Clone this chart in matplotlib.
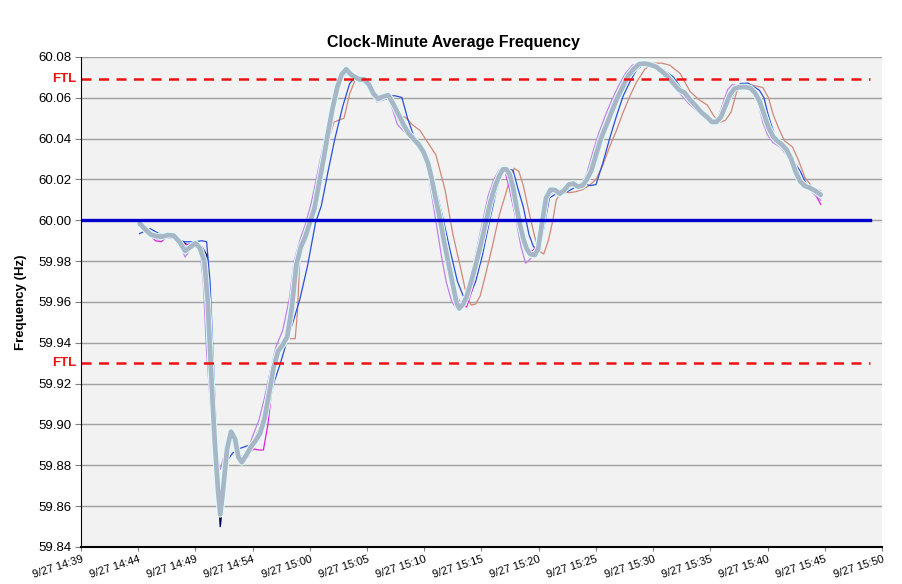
import matplotlib
matplotlib.use("Agg")
import matplotlib.pyplot as plt
import numpy as np

plt.rcParams['font.family'] = ['Liberation Sans', 'DejaVu Sans']

# x values are minutes after 14:00 on 9/27
x_start = 39.833
tick_step = 5.04
tick_labels = ["9/27 14:39", "9/27 14:44", "9/27 14:49", "9/27 14:54", "9/27 15:00",
               "9/27 15:05", "9/27 15:10", "9/27 15:15", "9/27 15:20", "9/27 15:25",
               "9/27 15:30", "9/27 15:35", "9/27 15:40", "9/27 15:45", "9/27 15:50"]

ftl_high = 60.069
ftl_low = 59.930
ref_span = [39.833, 109.3]

main_t = [45.0, 45.5, 46.0, 46.5, 47.0, 47.5, 48.0, 48.5, 49.0, 49.5, 49.9, 50.3, 50.7,
          51.0, 51.3, 51.6, 51.9, 52.1, 52.35, 52.7, 53.05, 53.4, 53.7, 54.0, 54.4,
          54.8, 55.2, 55.6, 56.0, 56.4, 56.8, 57.2, 57.6, 58.0, 58.4, 58.8, 59.2, 59.6,
          60.0, 60.4, 60.8, 61.2, 61.6, 62.0, 62.4, 62.8, 63.2, 63.6, 64.0, 64.4, 64.8,
          65.2, 65.6, 66.0, 66.4, 66.9, 67.3, 67.7, 68.2, 68.7, 69.1, 69.6, 70.0, 70.4,
          70.7, 71.1, 71.45, 71.8, 72.2, 72.6, 72.9, 73.15, 73.5, 73.8, 74.2, 74.6, 75.0,
          75.5, 75.9, 76.3, 76.7, 77.0, 77.3, 77.6, 77.9, 78.2, 78.5, 78.8, 79.1, 79.4,
          79.8, 80.1, 80.4, 80.8, 81.2, 81.6, 82.0, 82.4, 82.8, 83.2, 83.6, 84.0, 84.4,
          84.8, 85.2, 85.6, 86.0, 86.5, 87.0, 87.5, 88.0, 88.5, 89.0, 89.5, 90.0, 90.5,
          91.0, 91.5, 92.0, 92.5, 93.0, 93.5, 94.0, 94.5, 95.0, 95.4, 95.8, 96.2, 96.6,
          97.0, 97.4, 97.8, 98.3, 98.8, 99.2, 99.6, 100.0, 100.4, 100.8, 101.2, 101.6,
          102.0, 102.4, 102.8, 103.2, 103.6, 104.0, 104.5, 105.0]
main_f = [59.9985, 59.9955, 59.9930, 59.9922, 59.9920, 59.9928, 59.9925, 59.9895, 59.9850,
          59.9870, 59.9888, 59.9865, 59.9800, 59.9600, 59.9250, 59.8930, 59.8680, 59.8560,
          59.8680, 59.8880, 59.8965, 59.8930, 59.8840, 59.8815, 59.8850, 59.8890, 59.8920,
          59.8955, 59.9030, 59.9150, 59.9280, 59.9360, 59.9390, 59.9430, 59.9570, 59.9780,
          59.9870, 59.9920, 59.9990, 60.0060, 60.0180, 60.0300, 60.0430, 60.0550, 60.0650,
          60.0715, 60.0740, 60.0715, 60.0700, 60.0690, 60.0690, 60.0665, 60.0620, 60.0595,
          60.0605, 60.0613, 60.0575, 60.0530, 60.0474, 60.0425, 60.0400, 60.0370, 60.0335,
          60.0280, 60.0212, 60.0100, 60.0010, 59.9900, 59.9790, 59.9680, 59.9600, 59.9568,
          59.9590, 59.9625, 59.9700, 59.9780, 59.9870, 59.9990, 60.0090, 60.0165, 60.0220,
          60.0250, 60.0250, 60.0225, 60.0160, 60.0065, 59.9980, 59.9910, 59.9860, 59.9835,
          59.9830, 59.9860, 59.9970, 60.0110, 60.0150, 60.0148, 60.0130, 60.0148, 60.0175,
          60.0180, 60.0165, 60.0170, 60.0200, 60.0245, 60.0320, 60.0395, 60.0450, 60.0520,
          60.0590, 60.0648, 60.0705, 60.0740, 60.0765, 60.0768, 60.0762, 60.0752, 60.0730,
          60.0705, 60.0672, 60.0640, 60.0625, 60.0590, 60.0560, 60.0528, 60.0505, 60.0482,
          60.0482, 60.0505, 60.0560, 60.0615, 60.0645, 60.0652, 60.0653, 60.0648, 60.0625,
          60.0585, 60.0520, 60.0455, 60.0410, 60.0388, 60.0370, 60.0345, 60.0300, 60.0235,
          60.0190, 60.0168, 60.0160, 60.0145, 60.0125]

salmon_t = [45.0, 46.0, 47.0, 48.0, 49.0, 50.0, 50.6, 51.0, 51.4, 51.8, 52.1, 52.4, 53.0,
            53.5, 54.0, 55.0, 56.0, 56.8, 57.4, 57.9, 58.7, 58.9, 59.1, 59.6, 60.3, 61.0,
            61.6, 62.1, 62.5, 63.0, 63.5, 64.0, 64.5, 65.2, 66.0, 66.9, 67.5, 67.9, 68.4,
            69.0, 69.7, 70.4, 71.1, 71.9, 72.6, 73.3, 73.8, 74.2, 74.6, 75.0, 75.5, 76.1,
            76.7, 77.3, 77.7, 78.0, 78.4, 78.8, 79.3, 79.8, 80.2, 80.6, 81.0, 81.4, 81.7,
            82.2, 82.8, 83.4, 84.0, 84.6, 85.2, 85.8, 86.4, 87.0, 87.6, 88.2, 88.8, 89.5,
            90.2, 91.0, 91.7, 92.6, 93.5, 94.3, 95.0, 95.6, 96.1, 96.6, 97.1, 97.6, 98.2,
            99.0, 99.9, 100.4, 100.8, 101.3, 101.8, 102.5, 103.0, 103.6, 104.3, 105.0]
salmon_f = [59.9980, 59.9930, 59.9920, 59.9925, 59.9860, 59.9880, 59.9840, 59.9700, 59.9300,
            59.8850, 59.8560, 59.8700, 59.8960, 59.8900, 59.8820, 59.8910, 59.9040, 59.9270,
            59.9380, 59.9420, 59.9420, 59.9550, 59.9800, 59.9920, 60.0020, 60.0200, 60.0380,
            60.0480, 60.0490, 60.0500, 60.0620, 60.0690, 60.0690, 60.0665, 60.0595, 60.0605,
            60.0540, 60.0510, 60.0505, 60.0470, 60.0440, 60.0380, 60.0320, 60.0150, 59.9930,
            59.9760, 59.9630, 59.9585, 59.9590, 59.9630, 59.9740, 59.9880, 60.0030, 60.0140,
            60.0220, 60.0255, 60.0240, 60.0170, 60.0040, 59.9920, 59.9850, 59.9835, 59.9900,
            60.0000, 60.0100, 60.0145, 60.0135, 60.0140, 60.0150, 60.0170, 60.0200, 60.0270,
            60.0360, 60.0440, 60.0530, 60.0610, 60.0680, 60.0740, 60.0770, 60.0770, 60.0760,
            60.0720, 60.0630, 60.0590, 60.0565, 60.0510, 60.0480, 60.0490, 60.0530, 60.0630,
            60.0660, 60.0662, 60.0650, 60.0600, 60.0520, 60.0450, 60.0390, 60.0360, 60.0300,
            60.0210, 60.0160, 60.0145]

blue_t = [45.0, 45.9, 46.7, 47.5, 48.3, 49.0, 49.8, 50.5, 50.9, 51.2, 51.5, 51.8, 52.05,
          52.4, 52.8, 53.2, 53.7, 54.2, 55.0, 55.6, 56.2, 56.8, 57.4, 57.9, 58.5, 59.1,
          59.8, 60.5, 61.0, 61.6, 62.2, 62.9, 63.5, 63.9, 64.5, 65.0, 65.6, 66.2, 66.8,
          67.5, 68.1, 68.6, 69.1, 69.8, 70.5, 71.2, 71.8, 72.4, 73.0, 73.5, 74.0, 74.6,
          75.2, 75.8, 76.4, 76.9, 77.3, 77.9, 78.3, 78.8, 79.3, 79.7, 80.2, 80.6, 81.1,
          81.7, 82.5, 83.3, 84.1, 84.7, 85.2, 85.8, 86.4, 87.0, 87.6, 88.2, 88.8, 89.5,
          90.3, 91.2, 92.0, 92.8, 93.6, 94.4, 95.0, 95.5, 96.2, 97.0, 97.9, 98.6, 99.6,
          100.0, 100.4, 101.1, 101.8, 102.6, 103.2, 103.7, 104.4, 105.0]
blue_f = [59.9935, 59.9960, 59.9935, 59.9925, 59.9905, 59.9895, 59.9895, 59.9900, 59.9895,
          59.9700, 59.9300, 59.8900, 59.8660, 59.8760, 59.8830, 59.8860, 59.8880, 59.8890,
          59.8905, 59.8940, 59.9050, 59.9200, 59.9300, 59.9395, 59.9500, 59.9610, 59.9780,
          59.9990, 60.0070, 60.0240, 60.0400, 60.0560, 60.0670, 60.0695, 60.0695, 60.0680,
          60.0630, 60.0600, 60.0610, 60.0610, 60.0602, 60.0500, 60.0420, 60.0360, 60.0270,
          60.0130, 59.9990, 59.9840, 59.9700, 59.9630, 59.9620, 59.9700, 59.9830, 59.9990,
          60.0140, 60.0230, 60.0253, 60.0245, 60.0160, 60.0065, 59.9930, 59.9870, 59.9860,
          59.9960, 60.0110, 60.0130, 60.0135, 60.0160, 60.0180, 60.0170, 60.0175, 60.0280,
          60.0400, 60.0510, 60.0610, 60.0680, 60.0740, 60.0765, 60.0760, 60.0735, 60.0703,
          60.0640, 60.0580, 60.0530, 60.0500, 60.0480, 60.0520, 60.0588, 60.0670, 60.0672,
          60.0637, 60.0600, 60.0510, 60.0390, 60.0340, 60.0290, 60.0240, 60.0180, 60.0150,
          60.0130]

lilac_t = [45.0, 45.8, 46.6, 47.4, 48.0, 48.6, 49.0, 49.5, 49.9, 50.3, 50.6, 50.9, 51.3,
           51.7, 52.1, 52.5, 53.0, 53.5, 54.0, 54.5, 55.0, 55.5, 56.0, 56.5, 57.0, 57.6,
           58.2, 58.6, 59.1, 59.6, 60.1, 60.7, 61.3, 61.9, 62.5, 62.9, 63.4, 64.0, 64.8,
           65.4, 65.9, 66.5, 66.9, 67.3, 67.7, 68.2, 68.8, 69.4, 70.0, 70.4, 70.8, 71.2,
           71.6, 72.0, 72.5, 72.9, 73.3, 73.7, 74.2, 74.7, 75.2, 75.7, 76.2, 76.7, 77.1,
           77.4, 77.8, 78.2, 78.6, 79.0, 79.4, 79.8, 80.2, 80.6, 81.0, 81.6, 82.0, 82.8,
           83.5, 84.0, 84.4, 84.9, 85.4, 86.0, 86.6, 87.2, 87.8, 88.4, 89.0, 89.6, 90.2,
           91.0, 91.8, 92.6, 93.4, 94.2, 94.9, 95.5, 95.9, 96.3, 96.8, 97.2, 97.7, 98.4,
           99.0, 99.5, 99.9, 100.3, 100.8, 101.4, 102.0, 102.6, 103.1, 103.6, 104.2, 105.0]
lilac_f = [59.9985, 59.9930, 59.9905, 59.9915, 59.9910, 59.9870, 59.9820, 59.9860, 59.9885,
           59.9860, 59.9700, 59.9350, 59.9050, 59.8850, 59.8780, 59.8860, 59.8960, 59.8920,
           59.8830, 59.8870, 59.8950, 59.9020, 59.9130, 59.9260, 59.9380, 59.9460, 59.9620,
           59.9800, 59.9900, 59.9980, 60.0080, 60.0240, 60.0400, 60.0560, 60.0690, 60.0730,
           60.0715, 60.0695, 60.0690, 60.0640, 60.0580, 60.0590, 60.0600, 60.0540, 60.0470,
           60.0440, 60.0410, 60.0380, 60.0320, 60.0240, 60.0100, 59.9960, 59.9820, 59.9700,
           59.9600, 59.9570, 59.9580, 59.9640, 59.9730, 59.9860, 59.9990, 60.0120, 60.0200,
           60.0250, 60.0250, 60.0210, 60.0100, 59.9990, 59.9870, 59.9790, 59.9810, 59.9840,
           59.9920, 60.0080, 60.0140, 60.0150, 60.0135, 60.0180, 60.0170, 60.0185, 60.0230,
           60.0330, 60.0420, 60.0510, 60.0590, 60.0660, 60.0720, 60.0760, 60.0770, 60.0765,
           60.0760, 60.0730, 60.0680, 60.0620, 60.0570, 60.0530, 60.0500, 60.0480, 60.0490,
           60.0560, 60.0640, 60.0665, 60.0660, 60.0650, 60.0630, 60.0570, 60.0480, 60.0420,
           60.0380, 60.0360, 60.0320, 60.0250, 60.0200, 60.0170, 60.0140, 60.0098]

magenta_t = [45.0, 45.7, 46.4, 46.9, 47.4, 48.2, 49.0, 49.8, 50.4, 50.8, 51.1, 51.5, 51.9,
             52.1, 52.4, 52.8, 53.1, 53.5, 54.0, 54.6, 55.1, 55.5, 55.9, 56.3, 56.8, 57.3,
             57.9, 58.4, 58.9, 59.4, 60.0, 60.8, 61.6, 62.4, 63.2, 64.0, 64.8, 65.6, 66.4,
             66.9, 67.6, 68.6, 69.6, 70.4, 71.1, 71.8, 72.6, 73.2, 73.8, 74.3, 74.8, 75.5,
             76.2, 76.8, 77.2, 77.6, 78.0, 78.5, 79.0, 79.6, 80.1, 80.5, 80.9, 81.6, 82.4,
             83.2, 84.0, 84.8, 85.6, 86.5, 87.5, 88.5, 89.5, 90.5, 91.5, 92.5, 93.5, 94.5,
             95.3, 95.9, 96.3, 96.8, 97.4, 98.3, 99.2, 99.8, 100.4, 101.2, 102.0, 102.8,
             103.5, 104.1, 104.6, 105.0]
magenta_f = [59.9980, 59.9940, 59.9900, 59.9895, 59.9920, 59.9910, 59.9880, 59.9885, 59.9870,
             59.9790, 59.9550, 59.9100, 59.8700, 59.8560, 59.8700, 59.8880, 59.8960, 59.8920,
             59.8830, 59.8860, 59.8880, 59.8875, 59.8875, 59.9000, 59.9250, 59.9360, 59.9420,
             59.9560, 59.9780, 59.9880, 59.9990, 60.0180, 60.0430, 60.0650, 60.0735, 60.0700,
             60.0690, 60.0620, 60.0600, 60.0610, 60.0530, 60.0430, 60.0370, 60.0280, 60.0100,
             59.9900, 59.9690, 59.9600, 59.9575, 59.9660, 59.9790, 59.9960, 60.0140, 60.0230,
             60.0240, 60.0150, 60.0050, 59.9950, 59.9870, 59.9850, 59.9880, 60.0000, 60.0110,
             60.0148, 60.0148, 60.0180, 60.0170, 60.0245, 60.0395, 60.0520, 60.0648, 60.0740,
             60.0768, 60.0752, 60.0705, 60.0640, 60.0590, 60.0525, 60.0485, 60.0470, 60.0500,
             60.0590, 60.0645, 60.0653, 60.0625, 60.0560, 60.0455, 60.0388, 60.0345, 60.0235,
             60.0170, 60.0150, 60.0120, 60.0078]

navy_t = [45.0, 46.0, 47.0, 48.0, 48.6, 49.2, 49.9, 50.5, 50.9, 51.2, 51.5, 51.8, 52.1,
          52.4, 52.8, 53.1, 53.5, 54.0, 55.0, 56.0, 57.0, 58.0, 58.8, 59.6, 60.4, 61.2,
          62.0, 62.8, 63.3, 64.0, 65.0, 66.0, 67.0, 68.0, 69.0]
navy_f = [59.9980, 59.9930, 59.9920, 59.9925, 59.9900, 59.9880, 59.9890, 59.9870, 59.9830,
          59.9600, 59.9200, 59.8800, 59.8500, 59.8660, 59.8880, 59.8960, 59.8920, 59.8820,
          59.8910, 59.9040, 59.9330, 59.9440, 59.9760, 59.9910, 60.0060, 60.0300, 60.0540,
          60.0700, 60.0725, 60.0700, 60.0670, 60.0598, 60.0595, 60.0490, 60.0415]

fig = plt.figure(figsize=(9.03, 5.84), dpi=100)
ax = fig.add_axes([0.0897, 0.0634, 0.8870, 0.8390])
ax.set_facecolor('#f2f2f2')

ax.set_xlim(x_start, x_start + tick_step * 14)
ax.set_ylim(59.84, 60.08)
ax.set_yticks(np.arange(59.84, 60.0801, 0.02))
ax.set_yticklabels([f"{v:.2f}" for v in np.arange(59.84, 60.0801, 0.02)], fontsize=9.5)
ax.grid(axis='y', color='#a0a0a0', linewidth=1.0)
ax.set_axisbelow(True)

ax.set_xticks([x_start + tick_step * i for i in range(15)])
ax.set_xticklabels(tick_labels, fontsize=8, rotation=18, ha='right',
                   rotation_mode='anchor')
ax.tick_params(axis='x', length=3, pad=2, color='#808080')
ax.tick_params(axis='y', length=4, pad=3, color='#808080')

for s in ['top', 'right']:
    ax.spines[s].set_visible(False)
ax.spines['left'].set_color('black')
ax.spines['bottom'].set_color('black')
ax.spines['bottom'].set_linewidth(1.5)

# thin series first, thick average on top
ax.plot(salmon_t, salmon_f, color='#d08878', lw=0.9)
ax.plot(blue_t, blue_f, color='#2850d8', lw=0.9)
ax.plot(navy_t, navy_f, color='#000070', lw=1.0)
ax.plot(magenta_t, magenta_f, color='#e020e0', lw=0.9)
ax.plot(lilac_t, lilac_f, color='#c080f0', lw=0.9)
ax.plot(main_t, main_f, color='#dcffff', lw=4.8, solid_capstyle='round')
ax.plot(main_t, main_f, color='#a8b6c6', lw=3.4, solid_capstyle='round')

# reference lines
ax.plot(ref_span, [60.0, 60.0], color='#0000cc', lw=2.4)
ax.plot(ref_span, [ftl_high, ftl_high], color='#ee1111', lw=1.8, dashes=(4, 3))
ax.plot(ref_span, [ftl_low, ftl_low], color='#ee1111', lw=1.8, dashes=(4, 3))

trans = ax.get_yaxis_transform()
for v in (ftl_high, ftl_low):
    ax.text(-0.006, v, "FTL", transform=trans, color='#ee1111', fontsize=9.5,
            fontweight='bold', ha='right', va='center')

ax.set_ylabel("Frequency (Hz)", fontsize=9.5, fontweight='bold', labelpad=8)
fig.text(0.502, 0.928, "Clock-Minute Average Frequency", fontsize=11.5,
         fontweight='bold', ha='center', va='center')

fig.savefig("out.png", dpi=100)
